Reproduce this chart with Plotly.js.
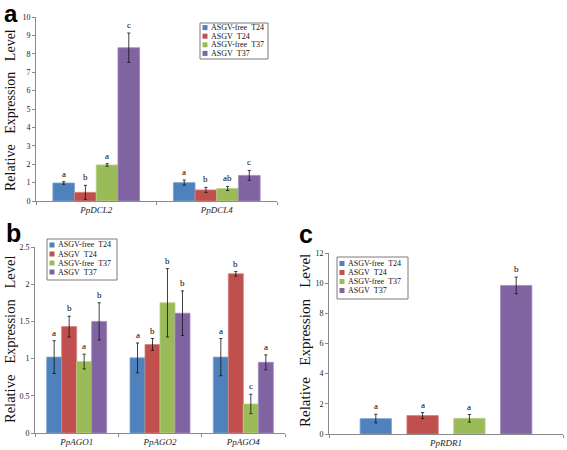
<!DOCTYPE html>
<html>
<head>
<meta charset="utf-8">
<script src="https://cdn.plot.ly/plotly-3.0.1.min.js"></script>
<style>html,body{margin:0;padding:0;background:#fff;}#chart{width:567px;height:450px;}</style>
</head>
<body>
<div id="chart"></div>
<script>
// ---------- data ----------
const seriesNames = ['ASGV-free\u00a0\u00a0T24', 'ASGV\u00a0\u00a0T24', 'ASGV-free\u00a0\u00a0T37', 'ASGV\u00a0\u00a0T37'];
const seriesColors = ['#4F81BD', '#C0504D', '#9BBB59', '#8064A2'];
const seriesEdges = ['#7FA3D1', '#D47F7D', '#B7D08A', '#A38BBE'];

// panel a
const genesA = ['PpDCL2', 'PpDCL4'];
const valuesA = [[0.98, 1.0], [0.47, 0.6], [1.96, 0.68], [8.33, 1.39]];
const errorsA = [[0.07, 0.14], [0.38, 0.14], [0.07, 0.11], [0.8, 0.27]];
const lettersA = [['a', 'a'], ['b', 'b'], ['a', 'ab'], ['c', 'c']];
const yTicksA = [0, 1, 2, 3, 4, 5, 6, 7, 8, 9, 10];

// panel b
const genesB = ['PpAGO1', 'PpAGO2', 'PpAGO4'];
const valuesB = [[1.02, 1.01, 1.02], [1.43, 1.19, 2.14], [0.96, 1.75, 0.39], [1.5, 1.61, 0.95]];
const errorsB = [[0.22, 0.2, 0.25], [0.14, 0.08, 0.03], [0.1, 0.46, 0.13], [0.25, 0.3, 0.1]];
const lettersB = [['a', 'a', 'a'], ['b', 'b', 'b'], ['a', 'b', 'c'], ['b', 'b', 'a']];
const yTicksB = [0, 0.5, 1, 1.5, 2, 2.5];
const yTickTextB = ['0', '0.5', '1', '1.5', '2', '2.5'];

// panel c
const genesC = ['PpRDR1'];
const valuesC = [[1.02], [1.22], [1.04], [9.85]];
const errorsC = [[0.28], [0.2], [0.25], [0.55]];
const lettersC = [['a'], ['a'], ['a'], ['b']];
const yTicksC = [0, 2, 4, 6, 8, 10, 12];

const yTitle = 'Relative\u00a0\u00a0 Expression\u00a0\u00a0 Level';

// ---------- layout helpers ----------
const W = 567, H = 450;
const px = v => v / W;
const py = v => 1 - v / H;
const serif = 'Liberation Serif, Times New Roman, serif';
const axisCol = '#8a8a8a';

const panels = [
  {genes: genesA, vals: valuesA, errs: errorsA, lets: lettersA, sfx: '', dom: [36, 277, 17, 201], yr: [0, 10], yt: yTicksA, ytt: yTicksA.map(String), group: 0.72, gg: 0,
   legend: {x0: 200, y0: 23, x1: 268, y1: 59, first: 4.6, step: 8.6}, label: 'a', lab: [2, 13.2, 24], title: [10, 110, 14]},
  {genes: genesB, vals: valuesB, errs: errorsB, lets: lettersB, sfx: '2', dom: [35, 285, 247, 433], yr: [0, 2.5], yt: yTicksB, ytt: yTickTextB, group: 0.72, gg: 0,
   legend: {x0: 47, y0: 239, x1: 117, y1: 280, first: 6, step: 9}, label: 'b', lab: [4, 233, 25], title: [10, 339, 14.5]},
  {genes: genesC, vals: valuesC, errs: errorsC, lets: lettersC, sfx: '3', dom: [329, 563, 253, 434], yr: [0, 12], yt: yTicksC, ytt: yTicksC.map(String), group: 0.8, gg: 0.33,
   legend: {x0: 337, y0: 257, x1: 408, y1: 299, first: 6.5, step: 9}, label: 'c', lab: [297, 234, 25], title: [305, 341, 15]}
];

const traces = [];
const annotations = [];
const shapes = [];
const layout = {
  width: W, height: H, margin: {l: 0, r: 0, t: 0, b: 0},
  paper_bgcolor: '#fff', plot_bgcolor: 'rgba(0,0,0,0)',
  barmode: 'overlay', showlegend: false,
  font: {family: serif, color: '#222', size: 9},
  annotations: annotations, shapes: shapes
};

panels.forEach(p => {
  const n = p.genes.length;
  const xs = p.genes.map((g, i) => i);
  const slot = p.group / 4;
  const bw = slot * (1 - p.gg);
  const xa = 'x' + p.sfx, ya = 'y' + p.sfx;
  p.vals.forEach((vals, j) => {
    const off = -p.group / 2 + j * slot + slot * p.gg / 2;
    traces.push({
      type: 'bar', x: xs, y: vals, xaxis: xa, yaxis: ya, name: seriesNames[j],
      width: bw, offset: off,
      marker: {color: seriesColors[j], line: {color: seriesEdges[j], width: 0.8}},
      error_y: {type: 'data', array: p.errs[j], visible: true, color: '#111', thickness: 0.8, width: 1.6},
      hoverinfo: 'skip'
    });
    vals.forEach((v, i) => {
      annotations.push({
        xref: xa, yref: ya, x: i + off + bw / 2, y: v + p.errs[j][i],
        text: p.lets[j][i], showarrow: false, yanchor: 'bottom', yshift: 1,
        font: {family: serif, size: 9, color: '#000'}
      });
    });
  });
  const bounds = [];
  for (let k = 0; k <= n; k++) bounds.push(k - 0.5);
  layout['xaxis' + p.sfx] = {
    domain: [px(p.dom[0]), px(p.dom[1])], anchor: ya, range: [-0.5, n - 0.5],
    tickmode: 'array', tickvals: xs, ticktext: p.genes.map(g => '<i>' + g + '</i>'),
    ticks: '', showgrid: false, zeroline: false, showline: true, linecolor: axisCol, linewidth: 1,
    tickfont: {family: serif, size: 9, color: '#222'},
    minor: {tickmode: 'array', tickvals: bounds, ticks: 'outside', ticklen: 3, tickcolor: axisCol, tickwidth: 1, showgrid: false},
    fixedrange: true
  };
  layout['yaxis' + p.sfx] = {
    domain: [py(p.dom[3]), py(p.dom[2])], anchor: xa, range: p.yr,
    tickmode: 'array', tickvals: p.yt, ticktext: p.ytt,
    ticks: 'outside', ticklen: 3, tickcolor: axisCol, tickwidth: 1,
    showgrid: false, zeroline: false, showline: true, linecolor: axisCol, linewidth: 1,
    tickfont: {family: serif, size: 8, color: '#222'}, fixedrange: true
  };
  // y title
  annotations.push({
    xref: 'paper', yref: 'paper', x: px(p.title[0]), y: py(p.title[1]), textangle: -90,
    text: yTitle, showarrow: false, xanchor: 'center', yanchor: 'middle',
    font: {family: serif, size: p.title[2], color: '#111'}
  });
  // panel label
  annotations.push({
    xref: 'paper', yref: 'paper', x: px(p.lab[0]), y: py(p.lab[1]),
    text: '<b>' + p.label + '</b>', showarrow: false, xanchor: 'left', yanchor: 'middle',
    font: {family: 'Liberation Sans, Arial, sans-serif', size: p.lab[2], color: '#000'}
  });
  // manual legend
  const L = p.legend;
  shapes.push({type: 'rect', xref: 'paper', yref: 'paper', x0: px(L.x0), x1: px(L.x1), y0: py(L.y1), y1: py(L.y0),
    line: {color: '#7a7a7a', width: 1}, fillcolor: '#fff', layer: 'above'});
  seriesNames.forEach((s, j) => {
    const cy = L.y0 + L.first + j * L.step;
    shapes.push({type: 'rect', xref: 'paper', yref: 'paper', x0: px(L.x0 + 2.5), x1: px(L.x0 + 7.5), y0: py(cy + 2.5), y1: py(cy - 2.5),
      line: {width: 0}, fillcolor: seriesColors[j], layer: 'above'});
    annotations.push({xref: 'paper', yref: 'paper', x: px(L.x0 + 8.5), y: py(cy), text: s, showarrow: false,
      xanchor: 'left', yanchor: 'middle', font: {family: serif, size: 8, color: '#111'}});
  });
});

Plotly.newPlot('chart', traces, layout, {displayModeBar: false, staticPlot: true});
</script>
</body>
</html>
